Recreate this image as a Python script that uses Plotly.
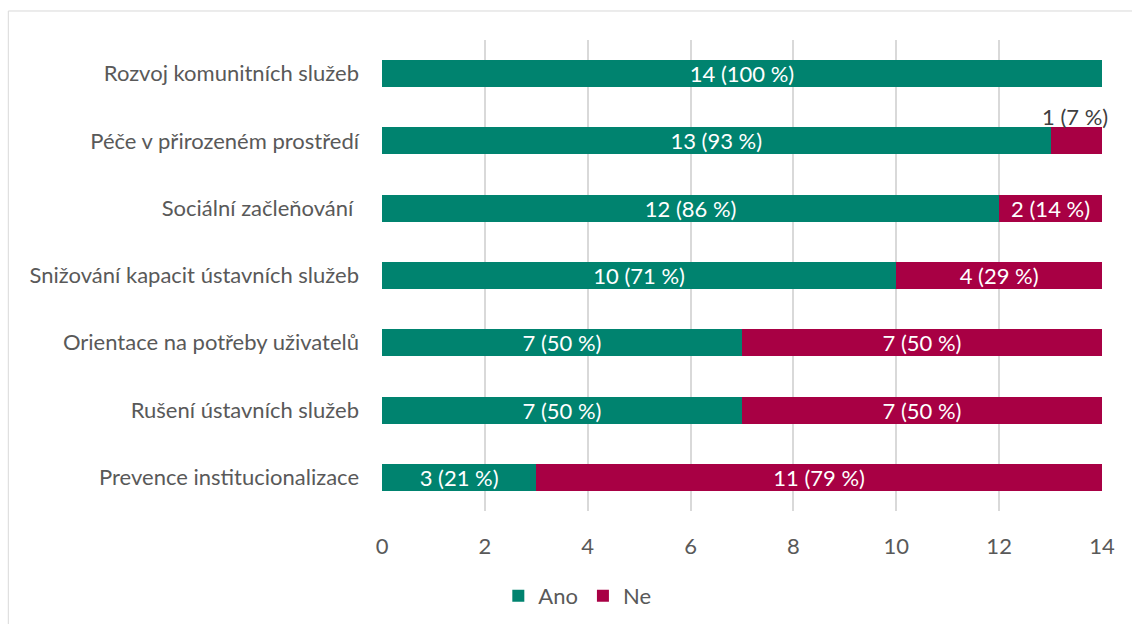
import plotly.graph_objects as go

# Survey results: does each principle apply? (count of respondents, n = 14)
categories = [
    "Rozvoj komunitních služeb",
    "Péče v přirozeném prostředí",
    "Sociální začleňování ",
    "Snižování kapacit ústavních služeb",
    "Orientace na potřeby uživatelů",
    "Rušení ústavních služeb",
    "Prevence institucionalizace",
]
ano = [14, 13, 12, 10, 7, 7, 3]
ne = [0, 1, 2, 4, 7, 7, 11]
series_names = ["Ano", "Ne"]
x_ticks = [0, 2, 4, 6, 8, 10, 12, 14]

TEAL = "#00836F"
CRIMSON = "#A80044"
FONT = "Lato"
FS = 22
GREY = "#595959"

totals = [a + n for a, n in zip(ano, ne)]


def label(v, t):
    return f"{v} ({round(100 * v / t)} %)" if v else ""


ano_txt = [label(v, t) if v >= 2 else "" for v, t in zip(ano, totals)]
ne_txt = [label(v, t) if v >= 2 else "" for v, t in zip(ne, totals)]

fig = go.Figure()
for name, vals, txt, col in [
    (series_names[0], ano, ano_txt, TEAL),
    (series_names[1], ne, ne_txt, CRIMSON),
]:
    fig.add_trace(go.Bar(
        y=categories, x=vals, name=name, orientation="h",
        marker=dict(color=col, line=dict(width=0)),
        text=txt, textposition="inside", insidetextanchor="middle",
        textangle=0, constraintext="none",
        textfont=dict(family=FONT, size=FS, color="white"),
        hoverinfo="x+y+name",
    ))

# Segments too narrow for an inside label get it above the bar end
annotations = []
for cat, v, t in zip(categories, ne, totals):
    if 0 < v < 2:
        annotations.append(dict(
            x=t, y=cat, xref="x", yref="y", text=label(v, t),
            showarrow=False, xanchor="right", yanchor="bottom",
            yshift=9, xshift=8,
            font=dict(family=FONT, size=FS, color="#404040"),
        ))

fig.update_layout(
    width=1132, height=624,
    barmode="stack", bargap=0.6,
    plot_bgcolor="white", paper_bgcolor="white",
    margin=dict(l=382, r=30, t=40, b=113),
    font=dict(family=FONT, size=FS, color=GREY),
    showlegend=True,
    legend=dict(
        orientation="h", xref="container", yref="container",
        x=0.51, xanchor="center", y=0.045, yanchor="middle",
        font=dict(family=FONT, size=FS, color=GREY),
        itemwidth=30, traceorder="normal",
    ),
    annotations=annotations,
    shapes=[dict(
        type="rect", xref="paper", yref="paper",
        x0=-0.519, x1=1.06, y0=-0.25, y1=1.0616,
        line=dict(color="#D9D9D9", width=1), layer="below",
    )],
)
fig.update_xaxes(
    range=[0, 14], tickvals=x_ticks, showgrid=True, gridcolor="#D9D9D9",
    gridwidth=1.5, zeroline=False, showline=False, ticks="",
    ticklabelstandoff=20, tickfont=dict(family=FONT, size=FS, color=GREY),
)
fig.update_yaxes(
    categoryorder="array", categoryarray=categories, autorange="reversed",
    showgrid=False, zeroline=False, showline=False, ticks="",
    ticklabelstandoff=22, tickfont=dict(family=FONT, size=FS, color=GREY),
)

fig.write_html("out.html")
